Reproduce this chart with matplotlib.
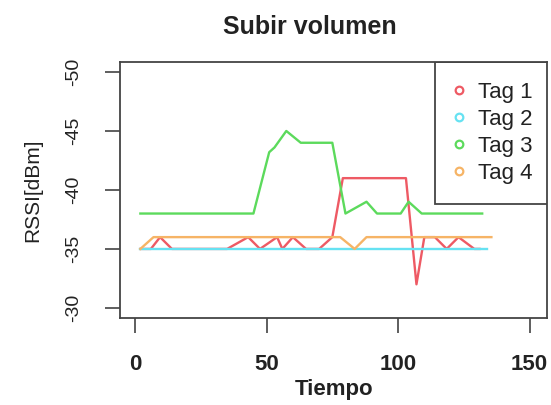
import matplotlib.pyplot as plt

# datos (RSSI en dBm)
t_tag1 = [2, 6, 9.5, 14, 35, 43, 47.5, 54, 56, 60, 65, 70, 75, 79, 103, 107, 110, 114, 118.5, 123, 129, 131]
rssi_tag1 = [-35, -35, -36, -35, -35, -36, -35, -36, -35, -36, -35, -35, -36, -41, -41, -32, -36, -36, -35, -36, -35, -35]

t_tag2 = [2, 134]
rssi_tag2 = [-35, -35]

t_tag3 = [2, 45, 51, 53, 57.5, 63, 75, 80, 88, 92, 101, 104, 109, 132]
rssi_tag3 = [-38, -38, -43.2, -43.6, -45, -44, -44, -38, -39, -38, -38, -39, -38, -38]

t_tag4 = [2, 7, 78, 83.5, 88, 135.5]
rssi_tag4 = [-35, -36, -36, -35, -36, -36]

etiquetas = ['Tag 1', 'Tag 2', 'Tag 3', 'Tag 4']
cores = ['#EE5A64', '#66E2F2', '#5CDA5C', '#F6B466']
xticks = [0, 50, 100, 150]
yticks = [-50, -45, -40, -35, -30]

plt.rcParams['font.family'] = ['Liberation Sans', 'DejaVu Sans']
plt.rcParams['axes.unicode_minus'] = False  # hifen normal como no R

fig = plt.figure(figsize=(5.51, 4.05), dpi=100)
ax = fig.add_axes([0.218, 0.215, 0.775, 0.632])

series = [(t_tag1, rssi_tag1), (t_tag2, rssi_tag2), (t_tag3, rssi_tag3), (t_tag4, rssi_tag4)]
for (t, r), cor in zip(series, cores):
    ax.plot(t, r, color=cor, lw=1.7)

# marcadores do legend (circulos abertos como no R)
handles = [plt.Line2D([], [], ls='none', marker='o', mfc='none', mec=c, ms=5.5, mew=1.6) for c in cores]
leg = ax.legend(handles, etiquetas, loc='upper right', bbox_to_anchor=(1.012, 1.0),
                borderaxespad=0, fontsize=16, handletextpad=0.7, labelspacing=0.27,
                fancybox=False, framealpha=1, borderpad=0.9, handlelength=0.3)
leg.get_frame().set_edgecolor('#444444')
leg.get_frame().set_linewidth(1.3)
leg.get_frame().set_clip_box(ax.bbox)  # cortar a caixa na borda do grafico
leg.get_frame().set_clip_on(True)
leg.set_zorder(2.4)  # a caixa fica por baixo das spines
for txt in leg.get_texts():
    txt.set_color('#222222')

ax.set_xlim(-5.7, 156.7)
ax.set_ylim(-29.15, -50.85)
ax.set_xticks(xticks)
ax.set_yticks(yticks)
ax.tick_params(direction='out', length=11, width=1.1, labelsize=14, colors='#333333')
ax.tick_params(axis='x', pad=15, labelsize=16)
ax.tick_params(axis='y', pad=16)
for lab in ax.get_xticklabels():
    lab.set_fontweight('bold')
    lab.set_color('#222222')
for lab in ax.get_yticklabels():
    lab.set_rotation(90)
    lab.set_va('center')
    lab.set_color('#222222')
for s in ax.spines.values():
    s.set_color('#444444')
    s.set_linewidth(1.3)

ax.set_xlabel('Tiempo', fontsize=16, fontweight='bold', labelpad=3, color='#222222')
ax.set_ylabel('RSSI[dBm]', fontsize=15, labelpad=17, color='#222222')
fig.suptitle('Subir volumen', fontsize=18, fontweight='bold', x=0.563, y=0.962, color='#222222')

plt.savefig('out.png', dpi=100)
